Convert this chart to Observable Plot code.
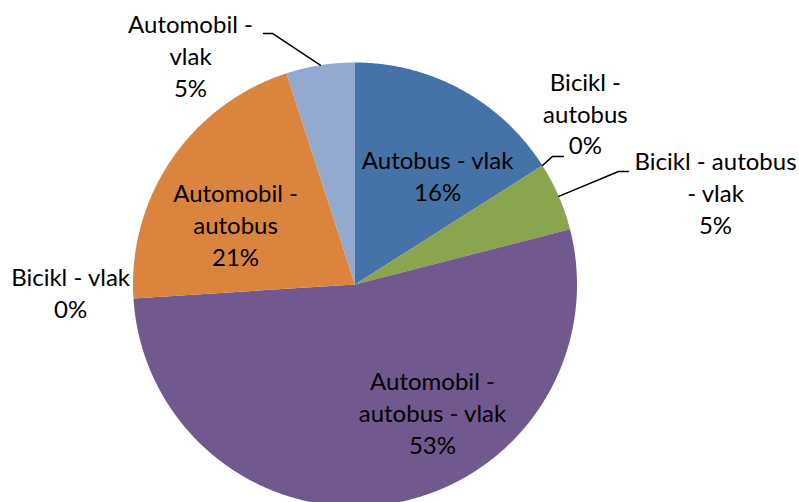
<!DOCTYPE html>
<html><head><meta charset="utf-8">
<script src="https://cdn.jsdelivr.net/npm/d3@7"></script>
<script src="https://cdn.jsdelivr.net/npm/@observablehq/plot@0.6"></script>
<style>body{margin:0;background:#fff} svg{display:block}</style>
</head><body><div id="chart"></div>
<script>
const categories = ["Autobus - vlak","Bicikl - autobus","Bicikl - autobus - vlak","Automobil - autobus - vlak","Bicikl - vlak","Automobil - autobus","Automobil - vlak"];
const values = [16,0,5,53,0,21,5];
const colors = ["#4572A7","#AA4643","#89A54E","#71588F","#4198AF","#DB843D","#93A9CF"];
const labelText = ["Autobus - vlak","Bicikl -\nautobus","Bicikl - autobus\n- vlak","Automobil -\nautobus - vlak","Bicikl - vlak","Automobil -\nautobus","Automobil -\nvlak"];

// layout (unit-circle coordinates): label anchors and leader-line elbows
const labelPos = [[0.372,0.48],[1.038,0.76],[1.624,0.40],[0.349,-0.59],[-1.281,-0.05],[-0.538,0.257],[-0.741,1.02]];
const leaderElbow = [null,[0.890,0.577,0.939],[1.187,0.509,1.232],null,null,null,[-0.372,1.131,-0.412]];

const total = d3.sum(values);
const slices = [];
const leaders = [];
let acc = 0;
categories.forEach((name, i) => {
  const a0 = acc / total * 2 * Math.PI;
  acc += values[i];
  const a1 = acc / total * 2 * Math.PI;
  if (values[i] > 0) {
    slices.push({name, x: 0, y: 0});
    const n = Math.max(2, Math.ceil((a1 - a0) / 0.005));
    for (let k = 0; k <= n; k++) {
      const t = a0 + (a1 - a0) * k / n;
      slices.push({name, x: Math.sin(t), y: Math.cos(t)});
    }
  }
  const e = leaderElbow[i];
  if (e) {
    const m = (a0 + a1) / 2;
    leaders.push({name, x: Math.sin(m), y: Math.cos(m)});
    leaders.push({name, x: e[0], y: e[1]});
    leaders.push({name, x: e[2], y: e[1]});
  }
});
const labels = categories.map((name, i) => ({
  name, x: labelPos[i][0], y: labelPos[i][1],
  text: labelText[i] + "\n" + values[i] + "%"
}));

const chart = Plot.plot({
  width: 799, height: 502, margin: 0,
  style: {fontFamily: "Lato, sans-serif", background: "#fff"},
  x: {domain: [-1, 1], range: [132.5, 576.5], axis: null},
  y: {domain: [-1, 1], range: [506, 62], axis: null},
  color: {domain: categories, range: colors},
  marks: [
    Plot.line(slices, {x: "x", y: "y", z: "name", fill: "name", stroke: null, curve: "linear"}),
    Plot.line(leaders, {x: "x", y: "y", z: "name", stroke: "black", strokeWidth: 1.5}),
    Plot.text(labels, {x: "x", y: "y", text: "text", fontSize: 24, lineHeight: 1.333, dy: -3.5, fill: "black", textAnchor: "middle"})
  ]
});
document.getElementById("chart").appendChild(chart);
</script>
</body></html>
